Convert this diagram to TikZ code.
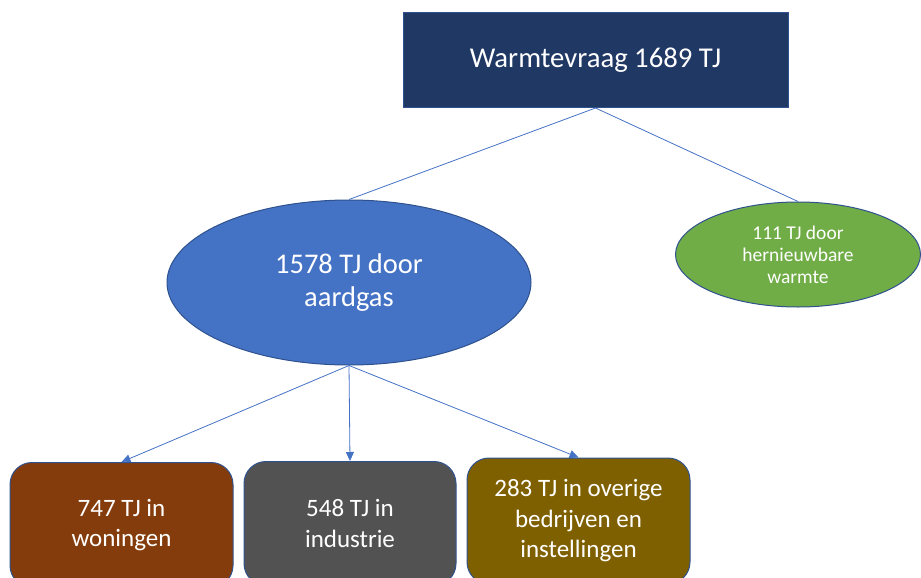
\documentclass[tikz,border=0pt]{standalone}
\usepackage{fontspec}
\setmainfont{Carlito}
\usetikzlibrary{shapes.geometric,arrows.meta}
\definecolor{navy}{HTML}{203864}
\definecolor{rand}{HTML}{2F528F}
\definecolor{lijn}{HTML}{4472C4}
\definecolor{gasblauw}{HTML}{4472C4}
\definecolor{groen}{HTML}{70AD47}
\definecolor{bruin}{HTML}{843C0C}
\definecolor{grijs}{HTML}{525252}
\definecolor{oker}{HTML}{7F6000}
\tikzset{
  blok/.style={draw=rand,line width=1pt,text=white,align=center,inner sep=0pt},
  ovaal/.style={blok,ellipse},
  doos/.style={blok,rounded corners=22pt,font=\fontsize{25}{30.5}\selectfont},
  verbind/.style={draw=lijn,line width=.8pt},
  pijl/.style={verbind,-{Triangle[length=9pt,width=8pt]}}
}
\begin{document}
\begin{tikzpicture}[x=1pt,y=-1pt]
\clip (0,0) rectangle (921,578);
\node[blok,fill=navy,minimum width=385pt,minimum height=95pt,font=\fontsize{28.7}{34}\selectfont] (vraag) at (595.5,60) {Warmtevraag 1689 TJ};
\node[ovaal,fill=gasblauw,minimum width=364pt,minimum height=165pt,font=\fontsize{28.5}{32.5}\selectfont] (gas) at (349,282.5) {1578 TJ door\\aardgas};
\node[ovaal,fill=groen,minimum width=245pt,minimum height=105pt,font=\fontsize{19.5}{22}\selectfont] (groen) at (798,254.5) {111 TJ door\\hernieuwbare\\warmte};
\node[doos,fill=bruin,minimum width=223pt,minimum height=125pt] (woning) at (121.5,525) {747 TJ in\\woningen};
\node[doos,fill=grijs,minimum width=212pt,minimum height=124pt] (industrie) at (350,523.5) {548 TJ in\\industrie};
\node[doos,fill=oker,minimum width=223pt,minimum height=126pt] (overig) at (578.5,521) {283 TJ in overige\\bedrijven en\\instellingen};
\draw[verbind] (vraag.south) -- (gas.north);
\draw[verbind] (vraag.south) -- (groen.north);
\foreach \doel in {woning,industrie,overig}\draw[pijl] (gas.south) -- (\doel.north);
\end{tikzpicture}
\end{document}
